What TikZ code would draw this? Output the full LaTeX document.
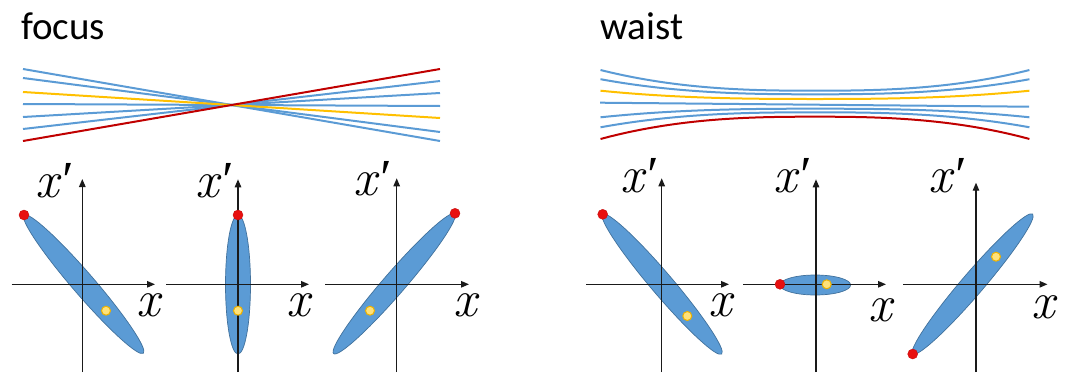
\documentclass[tikz,border=0pt]{standalone}
\usepackage{fontspec}
\newfontfamily\titlefont{Carlito}
\newfontfamily\primefont{Liberation Serif}
\usetikzlibrary{arrows.meta}
\definecolor{rayblue}{HTML}{5B9BD5}
\definecolor{rayyel}{HTML}{FFC000}
\definecolor{rayred}{HTML}{C00000}
\definecolor{ellfill}{HTML}{5B9BD5}
\definecolor{elledge}{HTML}{41719C}
\definecolor{dotred}{HTML}{E81010}
\definecolor{dotyelfill}{HTML}{FFE27A}
\definecolor{dotyeledge}{HTML}{EDB100}
\definecolor{axiscol}{HTML}{1A1A1A}
\newcommand{\xp}{x\kern1pt{\primefont\itshape ′}}
\begin{document}
\begin{tikzpicture}[x=1pt,y=-1pt,
  ray/.style={line width=2pt},
  ellip/.style={fill=ellfill,draw=elledge,line width=0.7pt},
  axis/.style={draw=axiscol,line width=1.2pt,-{Triangle[length=8pt,width=6.5pt]}},
  reddot/.style={circle,fill=dotred,draw=dotred!85!black,line width=0.4pt,minimum size=10pt,inner sep=0pt},
  yeldot/.style={circle,fill=dotyelfill,draw=dotyeledge,line width=1pt,minimum size=9pt,inner sep=0pt},
  title/.style={font=\titlefont\fontsize{39}{45}\selectfont,anchor=base west,inner sep=0pt},
  lab/.style={font=\fontsize{52}{58}\selectfont\itshape,anchor=base west,inner sep=0pt}]
\useasboundingbox (0,0) rectangle (1067,372);

% titles
\node[title] (tfocus) at (21,39) {focus};
\node[title] (twaist) at (600,39) {waist};

% focus rays
\foreach \d/\c in {-27/rayblue,-1/rayblue,12/rayblue,24/rayblue,-36/rayblue,-13/rayyel,36/rayred}{
  \draw[ray,\c] (23,{105+\d}) -- (440,{105-\d});
}

% waist rays
\foreach \e/\m/\c in {-34/-13.3/rayblue,-24.8/-9.7/rayblue,13.3/4.7/rayblue,23.3/8.3/rayblue,-13.3/-5/rayyel,35/12.7/rayred}{
  \draw[ray,\c] plot[domain=-1:1,samples=81,smooth]
    ({815+214.5*\x},{104+\m+(\e-\m)*abs(\x)^2.6});
}
\draw[ray,rayblue] (600,102.7) -- (1029,106.7);

% ---------- panel 1 ----------
\coordinate (c1) at (83.7,284.2);
\draw[ellip,rotate around={-49.2:(c1)}] (c1) ellipse [x radius=91.3pt,y radius=11pt];
\coordinate (v1b) at (82.3,372); \coordinate (v1t) at (82.3,179);
\coordinate (h1l) at (11.7,284.3); \coordinate (h1r) at (155,284.3);
\draw[axis] (v1b) -- (v1t);
\draw[axis] (h1l) -- (h1r);
\node[reddot] (r1) at (24,215) {};
\node[yeldot] (y1) at (106,310.7) {};
\node[lab] (xp1) at (35,197) {\xp};
\node[lab] (x1) at (136,316.7) {x};

% ---------- panel 2 ----------
\coordinate (c2) at (238,284.5);
\draw[ellip] (c2) ellipse [x radius=12.5pt,y radius=69.5pt];
\coordinate (v2b) at (238,372); \coordinate (v2t) at (238,179.3);
\coordinate (h2l) at (166,284.3); \coordinate (h2r) at (309,284.3);
\draw[axis] (v2b) -- (v2t);
\draw[axis] (h2l) -- (h2r);
\node[reddot] (r2) at (238,215) {};
\node[yeldot] (y2) at (238,310.7) {};
\node[lab] (xp2) at (195,197) {\xp};
\node[lab] (x2) at (286,316.7) {x};

% ---------- panel 3 ----------
\coordinate (c3) at (394.2,283.7);
\draw[ellip,rotate around={49.1:(c3)}] (c3) ellipse [x radius=92.5pt,y radius=11pt];
\coordinate (v3b) at (396.7,372); \coordinate (v3t) at (396.7,178.3);
\coordinate (h3l) at (325,284.3); \coordinate (h3r) at (469,284.3);
\draw[axis] (v3b) -- (v3t);
\draw[axis] (h3l) -- (h3r);
\node[reddot] (r3) at (455,213.3) {};
\node[yeldot] (y3) at (370,310.7) {};
\node[lab] (xp3) at (353,195) {\xp};
\node[lab] (x3) at (453,316.7) {x};

% ---------- panel 4 ----------
\coordinate (c4) at (662.2,284.2);
\draw[ellip,rotate around={-49.6:(c4)}] (c4) ellipse [x radius=91.8pt,y radius=11pt];
\coordinate (v4b) at (661.7,372); \coordinate (v4t) at (661.7,178.3);
\coordinate (h4l) at (586,284.3); \coordinate (h4r) at (729,284.3);
\draw[axis] (v4b) -- (v4t);
\draw[axis] (h4l) -- (h4r);
\node[reddot] (r4) at (602.7,214.3) {};
\node[yeldot] (y4) at (687.3,316) {};
\node[lab] (xp4) at (620,192) {\xp};
\node[lab] (x4) at (708,316.7) {x};

% ---------- panel 5 ----------
\coordinate (c5) at (815.3,285);
\draw[ellip] (c5) ellipse [x radius=35.3pt,y radius=10pt];
\coordinate (v5b) at (816,372); \coordinate (v5t) at (816,179.3);
\coordinate (h5l) at (743.3,284.3); \coordinate (h5r) at (886,284.3);
\draw[axis] (v5b) -- (v5t);
\draw[axis] (h5l) -- (h5r);
\node[reddot] (r5) at (780,284.3) {};
\node[yeldot] (y5) at (826.7,284.3) {};
\node[lab] (xp5) at (773,192) {\xp};
\node[lab] (x5) at (868,321) {x};

% ---------- panel 6 ----------
\coordinate (c6) at (972.7,284);
\draw[ellip,rotate around={49.4:(c6)}] (c6) ellipse [x radius=92.2pt,y radius=11pt];
\coordinate (v6b) at (976,372); \coordinate (v6t) at (976,182.7);
\coordinate (h6l) at (903.3,284.3); \coordinate (h6r) at (1047.5,284.3);
\draw[axis] (v6b) -- (v6t);
\draw[axis] (h6l) -- (h6r);
\node[reddot] (r6) at (912.7,354) {};
\node[yeldot] (y6) at (996,256.7) {};
\node[lab] (xp6) at (928,192) {\xp};
\node[lab] (x6) at (1031,318) {x};
\end{tikzpicture}
\end{document}
